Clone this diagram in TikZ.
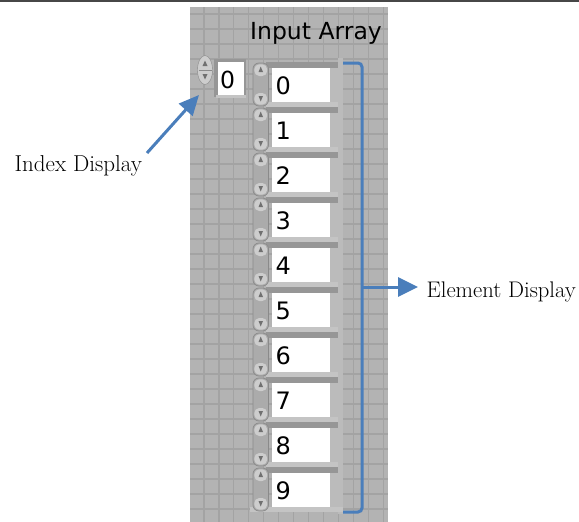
\documentclass[tikz,border=0pt]{standalone}
\usepackage{fontspec}
\newfontfamily\lvfont{DejaVu Sans}
\usetikzlibrary{arrows.meta,shapes.geometric}
\definecolor{panelbg}{HTML}{B3B3B3}
\definecolor{gridln}{HTML}{A3A3A3}
\definecolor{callout}{HTML}{4A7EBB}
\definecolor{bandd}{HTML}{969696}
\definecolor{bandl}{HTML}{C4C4C4}
\definecolor{colr}{HTML}{BBBBBB}
\definecolor{spinc}{HTML}{CDCDCD}
\definecolor{spinbar}{HTML}{ABABAB}
\definecolor{spinedge}{HTML}{8A8A8A}
\definecolor{tri}{HTML}{707070}
\tikzset{
  gridline/.style={gridln,line width=1.1pt},
  valbox/.style={fill=white,inner sep=0pt,minimum width=58pt,minimum height=34pt,anchor=north west},
  valtext/.style={font=\lvfont\fontsize{24}{28}\selectfont,anchor=base west,inner sep=0pt},
  labeltext/.style={font=\fontsize{23}{27}\selectfont,anchor=base west,inner sep=0pt},
  calloutline/.style={callout,line width=3pt},
  callarrow/.style={calloutline,-{Triangle[length=20pt,width=19pt]}},
  triup/.style={fill=tri},
}
\begin{document}
\begin{tikzpicture}[x=1pt,y=-1pt]
\useasboundingbox (0,0) rectangle (579,522);
\fill[white] (0,0) rectangle (579,522);
\fill[black!72] (0,0) rectangle (579,1.6);
% panel
\fill[panelbg] (190,7) rectangle (388,522);
\foreach \i in {0,...,12} \draw[gridline] ({204+14.97*\i},7) -- ({204+14.97*\i},522);
\foreach \j in {0,...,33} \draw[gridline] (190,{14+15*\j}) -- (388,{14+15*\j});
% title
\node[font=\lvfont\fontsize{23.5}{28}\selectfont,anchor=base west,inner sep=0pt] (title) at (250,39) {Input Array};
% index display
\fill[bandd] (214,59) rectangle (246,97);
\fill[bandl] (216,95) rectangle (246,98);
\node[fill=white,inner sep=0pt,minimum width=26pt,minimum height=33pt,anchor=north west] (idxbox) at (218,62) {};
\node[valtext,font=\lvfont\fontsize{23.5}{28}\selectfont] (idxval) at (220,88) {0};
\node[ellipse,draw=spinedge,fill=spinc,minimum width=15pt,minimum height=29pt,inner sep=0pt] (idxspin) at (205,70) {};
\draw[spinedge,line width=0.8pt] (198.5,70) -- (211.5,70);
\fill[triup] (202.5,66) -- (207.5,66) -- (205,60.5) -- cycle;
\fill[triup] (202.5,74) -- (207.5,74) -- (205,79.5) -- cycle;
% array frame
\fill[colr] (338,58) rectangle (343,514);
\fill[bandl] (250,507) rectangle (343,512);
\foreach \k in {0,...,9} {
  \pgfmathsetmacro\yt{62+45*\k}
  \fill[bandd] (266,\yt) rectangle (338,\yt+6);
  \fill[bandl] (266,\yt+40) rectangle (338,\yt+45);
  \fill[colr] (330,\yt+6) rectangle (338,\yt+40);
  \node[valbox] (box\k) at (272,\yt+6) {};
  \node[valtext] (val\k) at (275.5,\yt+32) {\k};
  \filldraw[fill=spinbar,draw=spinedge,line width=0.7pt,rounded corners=6pt] (253,\yt+1) rectangle (268.5,\yt+44);
  \fill[spinc,rounded corners=5pt] (254.3,\yt+2.3) rectangle (267.2,\yt+14);
  \fill[spinc,rounded corners=5pt] (254.3,\yt+31) rectangle (267.2,\yt+42.7);
  \fill[triup] (258.5,\yt+10) -- (263,\yt+10) -- (260.7,\yt+4.5) -- cycle;
  \fill[triup] (258.5,\yt+34) -- (263,\yt+34) -- (260.7,\yt+39.5) -- cycle;
}
% callouts
\coordinate (brtop) at (343,63);
\coordinate (brbot) at (343,512);
\coordinate (brmid) at (362,287);
\coordinate (eltip) at (418,287);
\draw[calloutline,rounded corners=4pt] (brtop) -- (362,63) -- (362,512) -- (brbot);
\node[labeltext,font=\fontsize{22.6}{27}\selectfont] (ellabel) at (426.5,297) {Element Display};
\draw[callarrow] (brmid) -- (eltip);
\node[labeltext] (idxlabel) at (14.5,171) {Index Display};
\coordinate (idxtail) at (147,153);
\coordinate (idxtip) at (199,95);
\draw[callarrow,-{Triangle[length=20pt,width=18pt]}] (idxtail) -- (idxtip);
\end{tikzpicture}
\end{document}
